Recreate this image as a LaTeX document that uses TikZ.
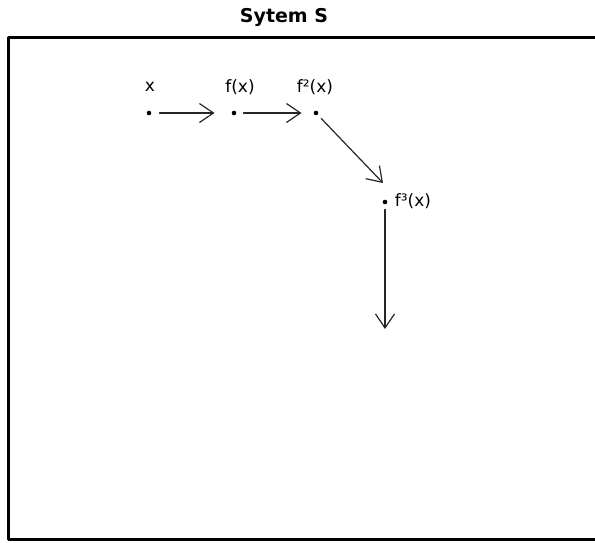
\documentclass[tikz,border=0pt]{standalone}
\usepackage{fontspec}
\setmainfont{DejaVu Sans}
\usetikzlibrary{arrows.meta}

\begin{document}
\begin{tikzpicture}[x=1pt, y=-1pt, line join = round, line cap = round]
    \tikzset{
        iter/.style={circle, fill=black, inner sep=0pt, minimum size=4.6pt},
        lbl/.style={font=\fontsize{17}{19}\selectfont, inner sep=0pt},
        flow/.style={-{Straight Barb[length=14pt,width=19pt]}, line width=1.2pt, draw=black!85}
    }
    \useasboundingbox (0,0) rectangle (595,542);

    % the system S
    \node[font=\fontsize{19}{21}\selectfont\bfseries, inner sep=0pt] (title) at (284,17) {Sytem S};
    \draw[line width=3pt, line cap=butt] (8.5,37.5) rectangle (610,539.5);

    % the orbit
    \node[iter] (x0) at (149,113) {};
    \node[iter] (x1) at (234,113) {};
    \node[iter] (x2) at (316,113) {};
    \node[iter] (x3) at (385,202) {};
    \coordinate (t3) at (383,183);
    \coordinate (x4) at (385,329);

    \node[lbl] (l0) at (150,87) {x};
    \node[lbl] (l1) at (240,87) {f(x)};
    \node[lbl] (l2) at (315,87) {f²(x)};
    \node[lbl] (l3) at (413,201) {f³(x)};

    \draw[flow, shorten <=8pt, shorten >=17pt] (x0) -- (x1);
    \draw[flow, shorten <=7pt, shorten >=12pt] (x1) -- (x2);
    \draw[flow, shorten <=5pt] (x2) -- (t3);
    \draw[flow, shorten <=5pt] (x3) -- (x4);
\end{tikzpicture}
\end{document}
